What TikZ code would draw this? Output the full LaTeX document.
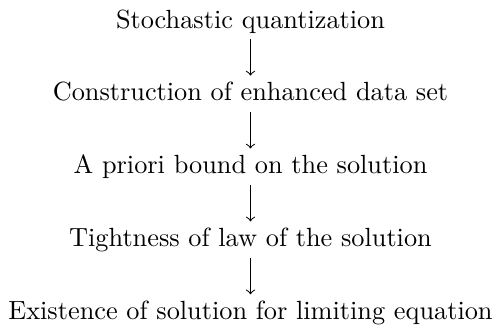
\documentclass[tikz,border=0pt]{standalone}
\usetikzlibrary{positioning}

\begin{document}
\begin{tikzpicture}[node distance=14.8pt]
	\tikzstyle{every node}=[inner sep=2.5pt, text height=1.5ex, text depth=.25ex]
	\node (quant) {Stochastic quantization};
	\node (data) [below=of quant] {Construction of enhanced data set};
	\node (bound) [below=of data] {A priori bound on the solution};
	\node (tight) [below=of bound] {Tightness of law of the solution};
	\node (exist) [below=of tight] {Existence of solution for limiting equation};
	\draw[->, shorten <=.5pt, shorten >=.5pt] (quant) -- (data);
	\draw[->, shorten <=.5pt, shorten >=.5pt] (data) -- (bound);
	\draw[->, shorten <=.5pt, shorten >=.5pt] (bound) -- (tight);
	\draw[->, shorten <=.5pt, shorten >=.5pt] (tight) -- (exist);
	% margins
	\coordinate (corner) at (exist.east |- quant.north);
	\useasboundingbox ([shift={(-.5pt,-1.5pt)}]exist.south west) rectangle ([shift={(.5pt,1.5pt)}]corner);
\end{tikzpicture}
\end{document}
